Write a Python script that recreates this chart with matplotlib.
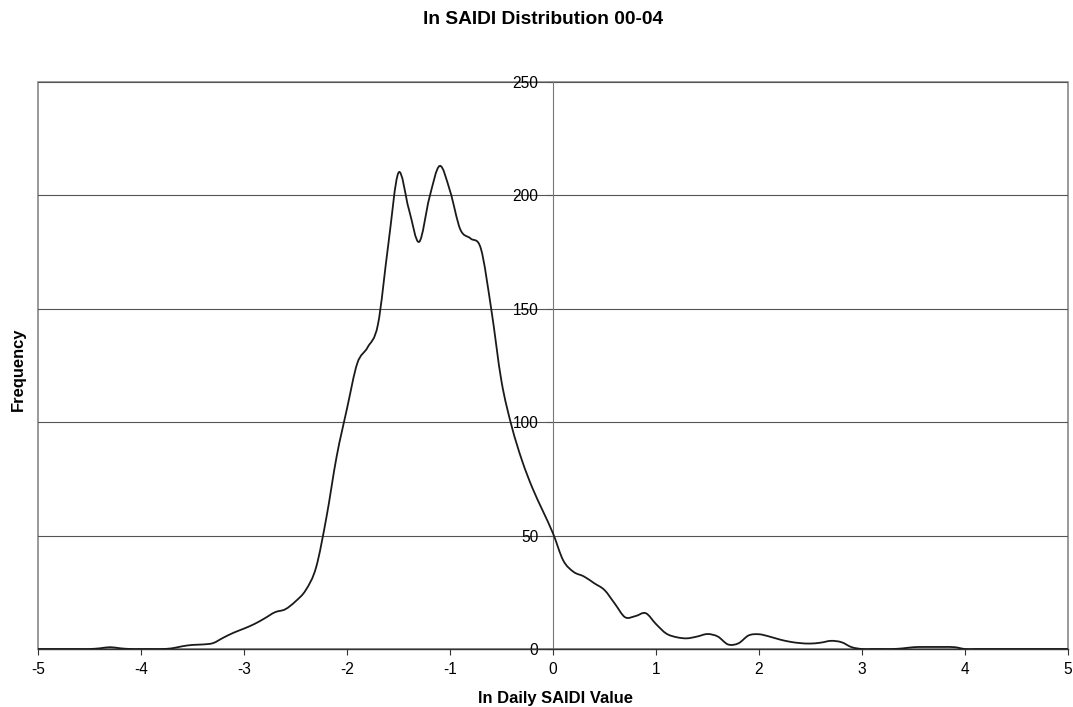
import matplotlib
matplotlib.use("Agg")
import matplotlib.pyplot as plt
import numpy as np
from matplotlib.path import Path
from matplotlib.patches import PathPatch

plt.rcParams['font.family'] = ['Liberation Sans', 'DejaVu Sans']

# ln daily SAIDI value (bin centres) and frequency
ln_saidi = np.round(np.arange(-5.0, 5.01, 0.1), 1)
frequency = [
    0, 0, 0, 0, 0, 0, 0.3, 0.8, 0.3, 0,          # -5.0 .. -4.1
    0, 0, 0, 0.3, 1.2, 1.8, 2.0, 2.6, 5.0, 7.2,  # -4.0 .. -3.1
    9.0, 11.0, 13.5, 16.2, 17.5, 21, 26, 36, 58, 85,  # -3.0 .. -2.1
    106, 126, 133, 143, 178, 210, 194, 179.5, 199, 213,  # -2.0 .. -1.1
    202, 185, 181, 176.5, 150, 118, 98, 83, 71, 61,  # -1.0 .. -0.1
    51, 39, 34, 32, 29, 26, 20, 14, 14.5, 15.8,  # 0.0 .. 0.9
    11, 6.8, 5.2, 4.7, 5.5, 6.6, 5.5, 2, 2.5, 6,  # 1.0 .. 1.9
    6.5, 5.5, 4.2, 3.2, 2.6, 2.4, 2.8, 3.6, 3.0, 0.8,  # 2.0 .. 2.9
    0, 0, 0, 0, 0.3, 0.8, 0.9, 0.9, 0.9, 0.8,    # 3.0 .. 3.9
    0, 0, 0, 0, 0, 0, 0, 0, 0, 0, 0,             # 4.0 .. 5.0
]

x_ticks = [-5, -4, -3, -2, -1, 0, 1, 2, 3, 4, 5]
y_ticks = [0, 50, 100, 150, 200, 250]


def smooth_path(xs, ys):
    # Catmull-Rom style bezier through the points, like a spreadsheet "smoothed line"
    pts = np.column_stack([xs, ys])
    verts = [pts[0]]
    codes = [Path.MOVETO]
    n = len(pts)
    for i in range(n - 1):
        p0 = pts[max(i - 1, 0)]
        p1 = pts[i]
        p2 = pts[i + 1]
        p3 = pts[min(i + 2, n - 1)]
        c1 = p1 + (p2 - p0) / 6.0
        c2 = p2 - (p3 - p1) / 6.0
        verts += [c1, c2, p2]
        codes += [Path.CURVE4] * 3
    return Path(verts, codes)


fig = plt.figure(figsize=(10.73, 7.07), dpi=100)
ax = fig.add_axes([38 / 1073, 1 - 649 / 707, 1030 / 1073, 567 / 707])

ax.set_xlim(-5, 5)
ax.set_ylim(0, 250)

# gridlines
ax.yaxis.grid(True, color='#555555', linewidth=0.8)
ax.set_axisbelow(True)

# frame round the plot area
ax.patch.set_edgecolor('#888888')
ax.patch.set_linewidth(1.2)

for side in ['top', 'right']:
    ax.spines[side].set_visible(False)
ax.spines['left'].set_position(('data', 0))
ax.spines['left'].set_color('#777777')
ax.spines['left'].set_linewidth(0.8)
ax.spines['bottom'].set_color('#333333')
ax.spines['bottom'].set_linewidth(1.0)

ax.add_patch(PathPatch(smooth_path(ln_saidi, frequency), facecolor='none',
                       edgecolor='#1a1a1a', linewidth=1.3, zorder=3))

ax.set_xticks(x_ticks)
ax.set_xticklabels([str(t) for t in x_ticks])
ax.set_yticks(y_ticks)
ax.set_yticklabels([str(t) for t in y_ticks])
ax.tick_params(axis='x', direction='out', length=4, width=0.8, color='#333333',
               labelsize=11.2, pad=5.5)
ax.tick_params(axis='y', direction='out', length=4, width=0.8, color='#555555',
               labelsize=11.2, pad=6.5)

fig.text(543 / 1073, 1 - 20 / 707, 'ln SAIDI Distribution 00-04', ha='center',
         va='center', fontsize=13.8, fontweight='bold')
fig.text(555 / 1073, 1 - 698 / 707, 'ln Daily SAIDI Value', ha='center',
         va='center', fontsize=11.9, fontweight='bold')
fig.text(18 / 1073, 1 - 369 / 707, 'Frequency', ha='center', va='center',
         rotation=90, fontsize=11.9, fontweight='bold')

fig.savefig('out.png', dpi=100, facecolor='white')
